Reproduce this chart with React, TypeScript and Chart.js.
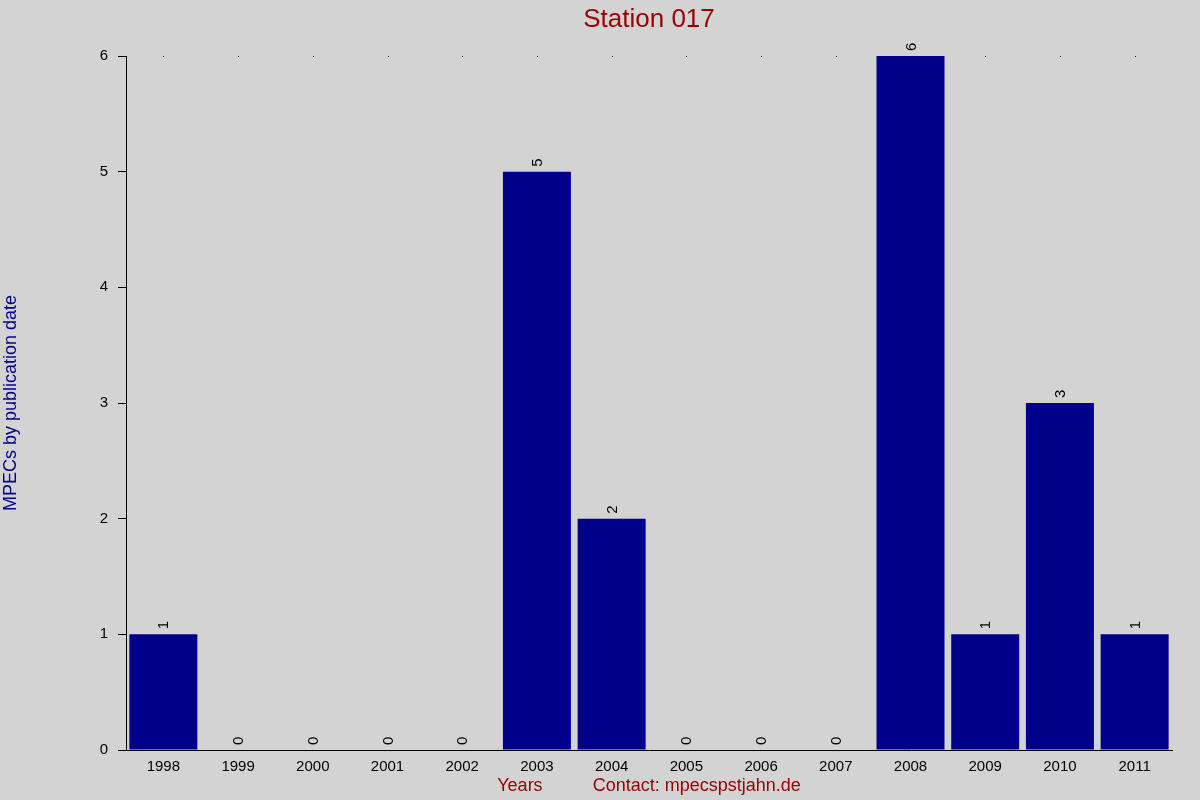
import React, { useEffect, useRef } from 'react';
import { Chart, registerables, Plugin } from 'chart.js';

Chart.register(...registerables);

const years: string[] = [
  '1998', '1999', '2000', '2001', '2002', '2003', '2004',
  '2005', '2006', '2007', '2008', '2009', '2010', '2011',
];
const mpecCounts: number[] = [1, 0, 0, 0, 0, 5, 2, 0, 0, 0, 6, 1, 3, 1];

const FONT = "'Liberation Sans', Arial, sans-serif";
const BAR_COLOR = '#00008b';
const RED = '#990000';

// title centred over the plot area, not the whole canvas
const plotTitle: Plugin<'bar'> = {
  id: 'plotTitle',
  afterDraw(chart) {
    const { ctx, chartArea } = chart;
    ctx.save();
    ctx.fillStyle = RED;
    ctx.font = `26px ${FONT}`;
    ctx.textAlign = 'center';
    ctx.textBaseline = 'middle';
    ctx.fillText('Station 017', (chartArea.left + chartArea.right) / 2, 20);
    ctx.restore();
  },
};

// small dots along the top edge, one per year
const topDots: Plugin<'bar'> = {
  id: 'topDots',
  beforeDatasetsDraw(chart) {
    const { ctx, chartArea, scales } = chart;
    ctx.save();
    ctx.fillStyle = '#000';
    years.forEach((_, i) => {
      const x = scales.x.getPixelForValue(i);
      ctx.fillRect(Math.round(x), chartArea.top, 1, 1);
    });
    ctx.restore();
  },
};

// rotated value labels above each bar
const valueLabels: Plugin<'bar'> = {
  id: 'valueLabels',
  afterDatasetsDraw(chart) {
    const { ctx } = chart;
    const meta = chart.getDatasetMeta(0);
    ctx.save();
    ctx.fillStyle = '#000';
    ctx.font = `15px ${FONT}`;
    ctx.textAlign = 'left';
    ctx.textBaseline = 'middle';
    meta.data.forEach((bar, i) => {
      ctx.save();
      ctx.translate(bar.x + 1, bar.y - 5);
      ctx.rotate(-Math.PI / 2);
      ctx.fillText(String(mpecCounts[i]), 0, 0);
      ctx.restore();
    });
    ctx.restore();
  },
};

export default function App() {
  const canvasRef = useRef<HTMLCanvasElement | null>(null);

  useEffect(() => {
    document.body.style.margin = '0';
    document.body.style.background = '#d3d3d3';
    if (!canvasRef.current) return;

    const chart = new Chart(canvasRef.current, {
      type: 'bar',
      data: {
        labels: years,
        datasets: [
          {
            label: 'MPECs',
            data: mpecCounts,
            backgroundColor: BAR_COLOR,
            borderWidth: 0,
            barPercentage: 0.91,
            categoryPercentage: 1,
          },
        ],
      },
      options: {
        responsive: false,
        animation: false,
        layout: { padding: { left: 0, right: 28, top: 56, bottom: 0 } },
        plugins: {
          legend: { display: false },
          tooltip: { enabled: false },
          title: { display: false },
        },
        scales: {
          x: {
            grid: { display: false },
            border: { display: true, color: '#000', width: 1 },
            ticks: {
              color: '#000',
              font: { family: FONT, size: 15 },
              padding: 0,
              maxRotation: 0,
              autoSkip: false,
            },
            title: {
              display: true,
              text: 'Years          Contact: mpecspstjahn.de',
              color: RED,
              font: { family: FONT, size: 18 },
              padding: { top: 0, bottom: 3 },
            },
            afterFit: (scale) => {
              scale.height = 50;
            },
          },
          y: {
            min: 0,
            max: 6,
            grid: {
              display: true,
              drawOnChartArea: false,
              drawTicks: true,
              tickLength: 8,
              color: '#000',
            },
            border: { display: true, color: '#000', width: 1 },
            ticks: {
              stepSize: 1,
              color: '#000',
              font: { family: FONT, size: 15 },
              padding: 10,
            },
            title: {
              display: true,
              text: 'MPECs by publication date',
              color: BAR_COLOR,
              font: { family: FONT, size: 18 },
              padding: 0,
            },
            afterFit: (scale) => {
              scale.width = 126;
            },
          },
        },
      },
      plugins: [topDots, valueLabels, plotTitle],
    });

    return () => {
      chart.destroy();
    };
  }, []);

  return (
    <div style={{ width: 1200, height: 800, background: '#d3d3d3' }}>
      <canvas ref={canvasRef} width={1200} height={800} style={{ width: 1200, height: 800 }} />
    </div>
  );
}
